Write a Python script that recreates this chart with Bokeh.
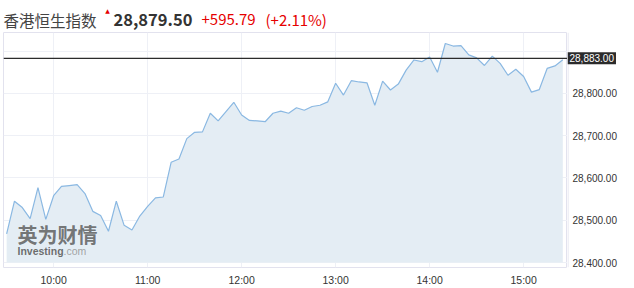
from bokeh.plotting import figure
from bokeh.layouts import column, row
from bokeh.models import Span, Label, FixedTicker, Range1d, Grid
from bokeh.core.properties import value
from bokeh.embed import file_html
from bokeh.resources import INLINE

# ---- data ----
times = ["09:30", "09:35", "09:40", "09:45", "09:50", "09:55",
         "10:00", "10:05", "10:10", "10:15", "10:20", "10:25",
         "10:30", "10:35", "10:40", "10:45", "10:50", "10:55",
         "11:00", "11:05", "11:10", "11:15", "11:20", "11:25",
         "11:30", "11:35", "11:40", "11:45", "11:50", "11:55",
         "12:00", "12:05", "12:10", "12:15", "12:20", "12:25",
         "12:30", "12:35", "12:40", "12:45", "12:50", "12:55",
         "13:00", "13:05", "13:10", "13:15", "13:20", "13:25",
         "13:30", "13:35", "13:40", "13:45", "13:50", "13:55",
         "14:00", "14:05", "14:10", "14:15", "14:20", "14:25",
         "14:30", "14:35", "14:40", "14:45", "14:50", "14:55",
         "15:00", "15:05", "15:10", "15:15", "15:20", "15:25"]
values = [28468, 28545, 28530, 28504, 28577, 28502,
          28558, 28580, 28582, 28584, 28563, 28521,
          28511, 28474, 28545, 28488, 28477, 28510,
          28533, 28553, 28555, 28637, 28645, 28693,
          28708, 28709, 28753, 28735, 28757, 28779,
          28749, 28736, 28735, 28733, 28753, 28758,
          28753, 28766, 28760, 28769, 28772, 28780,
          28824, 28796, 28830, 28827, 28825, 28772,
          28829, 28808, 28822, 28855, 28879, 28875,
          28886, 28850, 28918, 28912, 28913, 28891,
          28884, 28866, 28888, 28871, 28843, 28857,
          28840, 28803, 28809, 28859, 28865, 28879.5]
x_tick_labels = ["10:00", "11:00", "12:00", "13:00", "14:00", "15:00"]
y_tick_values = [28400, 28500, 28600, 28700, 28800]
y_grid_values = [28400, 28500, 28600, 28700, 28800, 28900]
ref_level = 28883.0
index_name = "香港恒生指数"
last_price = "28,879.50"
change_abs = "+595.79"
change_pct = "(+2.11%)"


def to_min(s):
    h, m = s.split(":")
    return int(h) * 60 + int(m)


x = [to_min(t) for t in times]
x_ticks = [to_min(t) for t in x_tick_labels]

# ---------------- header strip ----------------
hdr = figure(width=634, height=32, output_backend="svg", toolbar_location=None,
             x_range=Range1d(0, 634), y_range=Range1d(0, 32),
             min_border=0, x_axis_type=None, y_axis_type=None)
hdr.title.visible = False
hdr.outline_line_color = None
hdr.grid.visible = False
hdr.background_fill_color = "white"
hdr.border_fill_color = "white"

hdr.add_layout(Label(x=3, y=13, x_units="screen", y_units="screen", text=index_name,
                     text_font="Noto Sans CJK SC", text_font_size="15.5px",
                     text_color="#444444", text_baseline="middle"))
hdr.add_layout(Label(x=107, y=22, x_units="screen", y_units="screen", text="▲",
                     text_font="DejaVu Sans", text_font_size="6px",
                     text_color="#e60000", text_baseline="middle", text_align="center"))
hdr.add_layout(Label(x=113, y=13, x_units="screen", y_units="screen", text=last_price,
                     text_font="Noto Sans CJK SC", text_font_size="16.5px", text_font_style="bold",
                     text_color="#333333", text_baseline="middle"))
hdr.add_layout(Label(x=201, y=13, x_units="screen", y_units="screen", text=change_abs,
                     text_font="Noto Sans CJK SC", text_font_size="15px",
                     text_color="#e60000", text_baseline="middle"))
hdr.add_layout(Label(x=265, y=13, x_units="screen", y_units="screen", text=change_pct,
                     text_font="Noto Sans CJK SC", text_font_size="15px",
                     text_color="#e60000", text_baseline="middle"))

# ---------------- main chart ----------------
base_level, y_end = 28400, 28944      # lowest tick sits 231 px below the top
units_per_px = (y_end - base_level) / 231
pad_px = 5                            # white strip below the area
frame_h, bottom_h = 231 + pad_px, 20
y_lo = base_level - pad_px * units_per_px

p = figure(width=567, height=frame_h + bottom_h, output_backend="svg", toolbar_location=None,
           x_range=Range1d(568, 928), y_range=Range1d(y_lo, y_end),
           y_axis_location=None,
           min_border_left=3, min_border_right=0, min_border_top=0, min_border_bottom=bottom_h)
p.title.visible = False
p.outline_line_color = "#e2e2ee"
p.background_fill_color = "white"
p.border_fill_color = "white"

p.xgrid.ticker = FixedTicker(ticks=x_ticks)
p.xgrid.grid_line_color = "#eef0f6"
if len(p.ygrid) == 0:
    p.add_layout(Grid(dimension=1, ticker=FixedTicker(ticks=y_grid_values)))
for g in p.ygrid:
    g.ticker = FixedTicker(ticks=y_grid_values)
    g.grid_line_color = "#eef0f6"

p.varea(x=x, y1=[base_level] * len(x), y2=values, fill_color="#e4edf4")
p.line(x=x, y=values, line_color="#8ab8e2", line_width=1.2)

xa = p.xaxis[0]
xa.ticker = FixedTicker(ticks=x_ticks)
xa.major_label_overrides = {t: l for t, l in zip(x_ticks, x_tick_labels)}
xa.axis_line_color = None
xa.major_tick_line_color = None
xa.minor_tick_line_color = None
xa.major_label_standoff = 0
xa.major_label_text_font = "Liberation Sans"
xa.major_label_text_font_size = "10.5px"
xa.major_label_text_color = "#333333"

p.add_layout(Span(location=ref_level, dimension="width", line_color="#2b2b2b", line_width=1.3))

# watermark
p.add_layout(Label(x=14, y=14 + pad_px, x_units="screen", y_units="screen", text="英为财情",
                   text_font="Noto Sans CJK SC", text_font_size="20px", text_font_style="bold",
                   text_color="#555555", text_alpha=0.8))
p.add_layout(Label(x=14, y=6 + pad_px, x_units="screen", y_units="screen", text="Investing",
                   text_font="Liberation Sans", text_font_size="10.5px", text_font_style="bold",
                   text_color="#555555", text_alpha=0.85))
p.add_layout(Label(x=60, y=6 + pad_px, x_units="screen", y_units="screen", text=".com",
                   text_font="Liberation Sans", text_font_size="10.5px",
                   text_color="#999999", text_alpha=0.9))

# ---------------- right price scale (shares the y scale) ----------------
side = figure(width=67, height=frame_h + bottom_h, output_backend="svg", toolbar_location=None,
              x_range=Range1d(0, 67), y_range=p.y_range,
              min_border_left=0, min_border_right=0, min_border_top=0, min_border_bottom=bottom_h,
              x_axis_type=None, y_axis_type=None)
side.title.visible = False
side.outline_line_color = None
side.grid.visible = False
side.background_fill_color = "white"
side.border_fill_color = "white"

side.add_layout(Span(location=0.5, dimension="height", line_color="#e2e2ee", line_width=1))
side.text(x=[5] * len(y_tick_values), y=y_tick_values,
          text=[f"{v:,.2f}" for v in y_tick_values],
          text_font=value("Liberation Sans"), text_font_size=value("10px"),
          text_color="#333333", text_baseline="middle", text_align="left")
side.add_layout(Label(x=0, x_units="screen", y=ref_level, y_units="data",
                      text=f"{ref_level:,.2f}", text_color="white", text_baseline="middle",
                      text_font="Liberation Sans", text_font_size="10px",
                      background_fill_color="#2b2b2b", padding=2))

layout = column(hdr, row(p, side, spacing=0), spacing=0)
open("out.html", "w").write(file_html(layout, INLINE))
